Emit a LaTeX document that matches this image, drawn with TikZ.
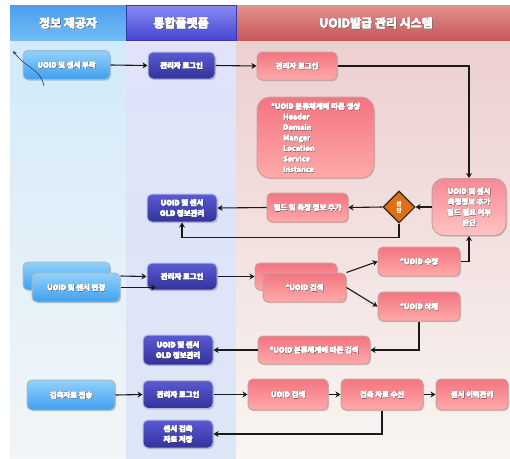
\documentclass[tikz,border=0pt]{standalone}
\usepackage{fontspec}
\setmainfont{Noto Sans CJK KR}[BoldFont={Noto Sans CJK KR Bold}, BoldFeatures={FakeBold=2}]
\usetikzlibrary{arrows.meta,shadows,shapes.geometric,calc}

% lane backgrounds
\definecolor{laneAtop}{HTML}{D2EAFA}
\definecolor{laneAmid}{HTML}{E4F0F9}
\definecolor{laneAbot}{HTML}{F3F5F7}
\definecolor{laneBtop}{HTML}{E0E3FA}
\definecolor{laneBmid}{HTML}{F4F5FB}
\definecolor{laneBbot}{HTML}{DCE6F6}
\definecolor{laneCtop}{HTML}{EDCFCF}
\definecolor{laneCmid}{HTML}{F3E4E2}
\definecolor{laneCbot}{HTML}{F8F5F2}
% lane headers
\definecolor{hdAtop}{HTML}{4C9EEC}
\definecolor{hdAbot}{HTML}{72BCF6}
\definecolor{hdBtop}{HTML}{8A8AF2}
\definecolor{hdBbot}{HTML}{4646D6}
\definecolor{hdCtop}{HTML}{E39090}
\definecolor{hdCmid}{HTML}{D56C6C}
\definecolor{hdCbot}{HTML}{C65858}
% boxes
\definecolor{blueTop}{HTML}{92D2FB}
\definecolor{blueBot}{HTML}{3E9FF0}
\definecolor{blueEdge}{HTML}{A8B8C8}
\definecolor{purTop}{HTML}{5A5AD4}
\definecolor{purBot}{HTML}{32329A}
\definecolor{purEdge}{HTML}{B8B8D8}
\definecolor{redTop}{HTML}{F37480}
\definecolor{redBot}{HTML}{FFAAAA}
\definecolor{redEdge}{HTML}{C8A0A0}
\definecolor{decFill}{HTML}{E07012}
\definecolor{curveCol}{HTML}{2A3A6A}

% heavy white lettering with a dark rim
\newcommand\shd[1]{\leavevmode
  \rlap{\kern0.6pt\raisebox{-0.5pt}{\textcolor{black!80}{#1}}}%
  \rlap{\kern-0.35pt\raisebox{0.35pt}{\textcolor{black!45}{#1}}}%
  \rlap{\kern0.3pt{#1}}#1}

\begin{document}
\begin{tikzpicture}[x=1pt,y=-1pt,
  box/.style={rounded corners=5pt, line width=1pt, inner sep=2pt,
    font=\bfseries\fontsize{7.4}{10.5}\selectfont, text=white, align=center,
    drop shadow={shadow xshift=1pt,shadow yshift=-1.2pt,opacity=0.3,fill=black!60}},
  bluebox/.style={box, top color=blueTop, bottom color=blueBot, draw=blueEdge},
  purbox/.style={box, top color=purTop, bottom color=purBot, draw=purEdge},
  redbox/.style={box, top color=redTop, bottom color=redBot, draw=redEdge},
  hdr/.style={font=\bfseries\fontsize{12}{13}\selectfont, text=white},
  arr/.style={-{Stealth[length=5pt,width=6pt]}, line width=1.1pt, black!90}]
\useasboundingbox (0,0) rectangle (510,458);
\fill[white] (0,0) rectangle (510,458);

% swim lanes
\shade[top color=laneAtop, middle color=laneAmid, bottom color=laneAbot] (10,40) rectangle (126,458);
\shade[top color=laneBtop, middle color=laneBmid, bottom color=laneBbot] (126,40) rectangle (236,458);
\shade[top color=laneCtop, middle color=laneCmid, bottom color=laneCbot] (236,40) rectangle (510,458);

% lane headers
\shade[top color=hdAtop, bottom color=hdAbot] (10,5) rectangle (126,40);
\shade[top color=hdBtop, bottom color=hdBbot] (126,5) rectangle (236,40);
\shade[top color=hdCtop, middle color=hdCmid, bottom color=hdCbot] (236,5) rectangle (510,40);
\draw[line width=0.6pt, hdBbot!80!black] (126,5) rectangle (236,40);
\node[hdr] (hA) at (68,23) {\shd{정보 제공자}};
\node[hdr] (hB) at (181,23) {\shd{통합플랫폼}};
\node[hdr] (hC) at (376,23) {\shd{UOID발급 관리 시스템}};

% row 1: registration
\node[bluebox, minimum width=87, minimum height=29] (attach) at (66.5,65) {\shd{UOID 및 센서 부착}};
\node[purbox, minimum width=67, minimum height=27] (loginA) at (181.5,65.5) {\shd{관리자 로그인}};
\node[redbox, minimum width=80, minimum height=28] (loginR) at (297,66) {\shd{관리자 로그인}};
\node[redbox, rounded corners=13pt, minimum width=117, minimum height=81, align=left] (gen) at (315.5,137.5)
  {\shd{*UOID 분류체계에 따른 생성}\\
   \hspace*{12pt}\shd{Header}\\
   \hspace*{12pt}\shd{Domain}\\
   \hspace*{12pt}\shd{Manger}\\
   \hspace*{12pt}\shd{Location}\\
   \hspace*{12pt}\shd{Service}\\
   \hspace*{12pt}\shd{Instance}};
\node[redbox, rounded corners=12pt, minimum width=74, minimum height=57, top color=redTop!85!white, bottom color=redBot!70!white] (judge) at (469,207)
  {\shd{UOID 및 센서}\\\shd{측정정보 추가}\\\shd{필드 필요 여부}\\\shd{판단}};
\node[diamond, draw=black!85, line width=1.1pt, fill=decFill, minimum width=32, minimum height=32, inner sep=0pt,
  text=white, align=center, font=\bfseries\fontsize{5.5}{6.5}\selectfont] (dec) at (399,207) {판\\단};
\node[redbox, minimum width=81, minimum height=29] (field) at (307.5,207.5) {\shd{필드 및 측정 정보 추가}};
\node[purbox, minimum width=70, minimum height=28] (oldA) at (182,208) {\shd{UOID 및 센서}\\\shd{OLD 정보관리}};

% row 2: modification
\node[bluebox, minimum width=87, minimum height=28] (chgB) at (66.5,276) {};
\node[bluebox, minimum width=88, minimum height=29] (chgF) at (76,287.5) {\shd{UOID 및 센서 변경}};
\node[purbox, minimum width=70, minimum height=27] (loginB) at (182,276.5) {\shd{관리자 로그인}};
\node[redbox, minimum width=82, minimum height=27] (srchB) at (296,276.5) {};
\node[redbox, minimum width=83, minimum height=29] (srchF) at (304.5,287.5) {\shd{*UOID 검색}};
\node[redbox, minimum width=82, minimum height=29] (mod) at (419,261.5) {\shd{*UOID 수정}};
\node[redbox, minimum width=82, minimum height=29] (del) at (419,306.5) {\shd{*UOID 삭제}};
\node[redbox, minimum width=112, minimum height=28] (clsrch) at (314,350) {\shd{*UOID 분류체계에 따른 검색}};
\node[purbox, minimum width=70, minimum height=30] (oldB) at (178,350) {\shd{UOID 및 센서}\\\shd{OLD 정보관리}};

% row 3: measurement data
\node[bluebox, minimum width=88, minimum height=30] (send) at (71,395) {\shd{검측자료 전송}};
\node[purbox, minimum width=70, minimum height=28] (loginC) at (178,394.5) {\shd{관리자 로그인}};
\node[redbox, minimum width=80, minimum height=31] (srchC) at (288,394.5) {\shd{UOID 검색}};
\node[redbox, minimum width=82, minimum height=31] (recv) at (382,394.5) {\shd{검측 자료 수신}};
\node[redbox, minimum width=72, minimum height=31] (hist) at (472,394.5) {\shd{센서 이력관리}};
\node[purbox, minimum width=70, minimum height=28] (save) at (178,434) {\shd{센서 검측}\\\shd{자료 저장}};

% free ends
\coordinate (curveA) at (44,86);
\coordinate (curveB) at (13,51);
\coordinate (chgEnd) at (156,287.5);

% connectors, row 1
\draw[arr] (attach.east) -- (loginA.west);
\draw[arr] (loginA.east) -- (loginR.west);
\draw[arr] (loginR.east) -| (judge.north);
\draw[arr] (judge.west) -- (dec.east);
\draw[arr] (dec.west) -- (field.east);
\draw[arr] (field.west) -- (oldA.east);
\draw[arr] (dec.south) -- ++(0,14) -| (oldA.south);
\draw[-{Stealth[length=4pt,width=3.5pt]}, line width=0.6pt, curveCol] (curveA) .. controls (40,68) and (28,70) .. (curveB);

% connectors, row 2
\draw[arr] (chgF.east |- chgB.east) -- (loginB.west);
\draw[arr] (chgF.east) -- (chgEnd);
\draw[arr] (loginB.east) -- (srchB.west);
\draw[arr] (srchF.north east) -- (mod.west);
\draw[arr] (srchF.east) -- (del.west);
\draw[arr] (mod.east) -| (judge.south);
\draw[arr] (del.south) |- (clsrch.east);
\draw[arr] (clsrch.west) -- (oldB.east);

% connectors, row 3
\draw[arr] (send.east) -- (loginC.west);
\draw[arr] (loginC.east) -- (srchC.west);
\draw[arr] (srchC.east) -- (recv.west);
\draw[arr] (recv.east) -- (hist.west);
\draw[arr] (recv.south) |- (save.east);
\end{tikzpicture}
\end{document}
